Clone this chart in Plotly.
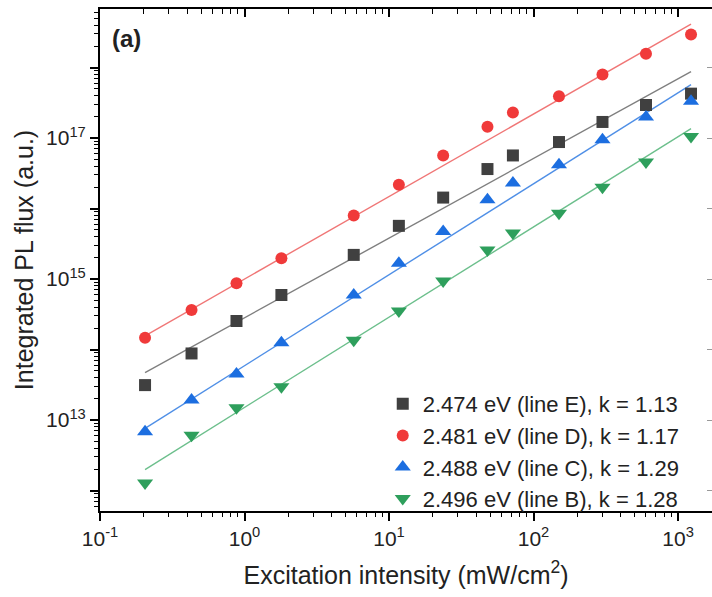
import numpy as np
import plotly.graph_objects as go

# ---- data ----
excitation = [0.205, 0.43, 0.88, 1.8, 5.7, 11.7, 23.7, 48, 72, 150, 300, 600, 1230]

flux_E = [3.13e13, 8.8e13, 2.54e14, 5.94e14, 2.2e15, 5.68e15, 1.43e16, 3.63e16,
          5.66e16, 8.77e16, 1.69e17, 2.94e17, 4.26e17]
flux_D = [1.47e14, 3.64e14, 8.7e14, 1.97e15, 7.95e15, 2.17e16, 5.66e16, 1.45e17,
          2.31e17, 3.9e17, 7.94e17, 1.57e18, 2.93e18]
flux_C = [6.8e12, 1.92e13, 4.49e13, 1.25e14, 5.94e14, 1.67e15, 4.71e15, 1.33e16,
          2.3e16, 4.18e16, 9.46e16, 1.99e17, 3.31e17]
flux_B = [1.28e12, 6.1e12, 1.49e13, 2.96e13, 1.36e14, 3.52e14, 9.4e14, 2.59e15,
          4.48e15, 8.6e15, 2.01e16, 4.56e16, 1.05e17]

series_names = ["2.474 eV (line E), k = 1.13", "2.481 eV (line D), k = 1.17",
                "2.488 eV (line C), k = 1.29", "2.496 eV (line B), k = 1.28"]
series_values = [flux_E, flux_D, flux_C, flux_B]
fit_k = [1.13, 1.17, 1.29, 1.28]
fit_amp = [2.82e14, 1.0e15, 5.9e13, 1.51e13]

marker_symbols = ["square", "circle", "triangle-up", "triangle-down"]
marker_sizes = [12, 12, 14, 14]
marker_colors = ["#404040", "#f03a3a", "#1c6ee0", "#2e9f5c"]
line_colors = ["#7f7f7f", "#f07676", "#4f8fe6", "#6cbf8c"]

x_tick_vals = [0.1, 1, 10, 100, 1000]
x_tick_text = ["10<sup>-1</sup>", "10<sup>0</sup>", "10<sup>1</sup>", "10<sup>2</sup>", "10<sup>3</sup>"]
y_tick_vals = [1e12, 1e13, 1e14, 1e15, 1e16, 1e17, 1e18]
y_tick_text = ["", "10<sup>13</sup>", "", "10<sup>15</sup>", "", "10<sup>17</sup>", ""]

x_minor = [d * 10.0 ** n for n in range(-1, 4) for d in range(2, 10)]
y_minor = [d * 10.0 ** n for n in range(11, 19) for d in range(2, 10)]

x_range = [-1, 3.235]
y_range = [11.71, 18.83]

FONT = "Liberation Sans, Arial, sans-serif"
TXT = "#222222"

fig = go.Figure()

# fit lines
for name, k, a, lc in zip(series_names, fit_k, fit_amp, line_colors):
    xf = np.array([excitation[0], excitation[-1]])
    fig.add_trace(go.Scatter(x=xf, y=a * xf ** k, mode="lines",
                             line=dict(color=lc, width=1.4),
                             showlegend=False, hoverinfo="skip"))

# data points
for name, vals, sym, ms, mc in zip(series_names, series_values, marker_symbols,
                                   marker_sizes, marker_colors):
    fig.add_trace(go.Scatter(x=excitation, y=vals, mode="markers", name=name,
                             marker=dict(symbol=sym, color=mc, size=ms,
                                         line=dict(width=0))))

# invisible traces that anchor the extra tick-only axes
for xa, ya in [("x2", "y2"), ("x3", "y3"), ("x4", "y3")]:
    fig.add_trace(go.Scatter(x=[1], y=[1e15], xaxis=xa, yaxis=ya, mode="markers",
                             marker=dict(opacity=0), showlegend=False, hoverinfo="skip"))

common_off = dict(showgrid=False, zeroline=False, showticklabels=False)

fig.update_layout(
    width=712, height=597,
    margin=dict(l=100, r=0, t=9, b=86),
    paper_bgcolor="white", plot_bgcolor="white",
    font=dict(family=FONT, size=20, color=TXT),
    xaxis=dict(type="log", range=x_range, tickmode="array", tickvals=x_tick_vals,
               ticktext=x_tick_text, ticks="outside", ticklen=8, tickwidth=1.5,
               tickcolor="black", showline=True, linewidth=2, linecolor="black",
               showgrid=False, zeroline=False,
               tickfont=dict(size=21, family=FONT, color=TXT),
               title=dict(text="Excitation intensity (mW/cm<sup>2</sup>)",
                          font=dict(size=25, family=FONT, color=TXT),
                          standoff=17)),
    yaxis=dict(type="log", range=y_range, tickmode="array", tickvals=y_tick_vals,
               ticktext=y_tick_text, ticks="outside", ticklen=8, tickwidth=1.5,
               tickcolor="black", showline=True, linewidth=2, linecolor="black",
               showgrid=False, zeroline=False,
               tickfont=dict(size=21, family=FONT, color=TXT),
               title=dict(text="Integrated PL flux (a.u.)",
                          font=dict(size=25, family=FONT, color=TXT),
                          standoff=5)),
    # top axis, major ticks inside
    xaxis2=dict(type="log", range=x_range, overlaying="x", side="top",
                tickmode="array", tickvals=x_tick_vals, ticks="inside", ticklen=8,
                tickwidth=1.5, tickcolor="black",
                showline=True, linewidth=2, linecolor="black", **common_off),
    # right axis, faint inside ticks (axis line itself lies beyond the frame)
    yaxis2=dict(type="log", range=y_range, overlaying="y", side="right",
                tickmode="array", tickvals=y_tick_vals, ticks="inside", ticklen=5,
                tickwidth=1.2, tickcolor="#999999", showline=False, **common_off),
    # bottom minor ticks
    xaxis3=dict(type="log", range=x_range, overlaying="x", side="bottom", anchor="y3",
                tickmode="array", tickvals=x_minor, ticks="outside", ticklen=5,
                tickwidth=1.3, tickcolor="black", showline=False, **common_off),
    # top minor ticks
    xaxis4=dict(type="log", range=x_range, overlaying="x", side="top", anchor="y3",
                tickmode="array", tickvals=x_minor, ticks="inside", ticklen=5,
                tickwidth=1.3, tickcolor="black", showline=False, **common_off),
    # left minor ticks
    yaxis3=dict(type="log", range=y_range, overlaying="y", side="left", anchor="x3",
                tickmode="array", tickvals=y_minor, ticks="outside", ticklen=5,
                tickwidth=1.3, tickcolor="black", showline=False, **common_off),
    legend=dict(x=0.462, y=0.255, xanchor="left", yanchor="top",
                bgcolor="rgba(0,0,0,0)", borderwidth=0,
                font=dict(size=22, family=FONT, color=TXT),
                tracegroupgap=0, itemsizing="trace"),
    showlegend=True,
    annotations=[dict(text="<b>(a)</b>", xref="paper", yref="paper", x=0.017, y=0.941,
                      xanchor="left", yanchor="middle", showarrow=False,
                      font=dict(size=24, family=FONT, color=TXT))],
)

fig.write_html("out.html")
